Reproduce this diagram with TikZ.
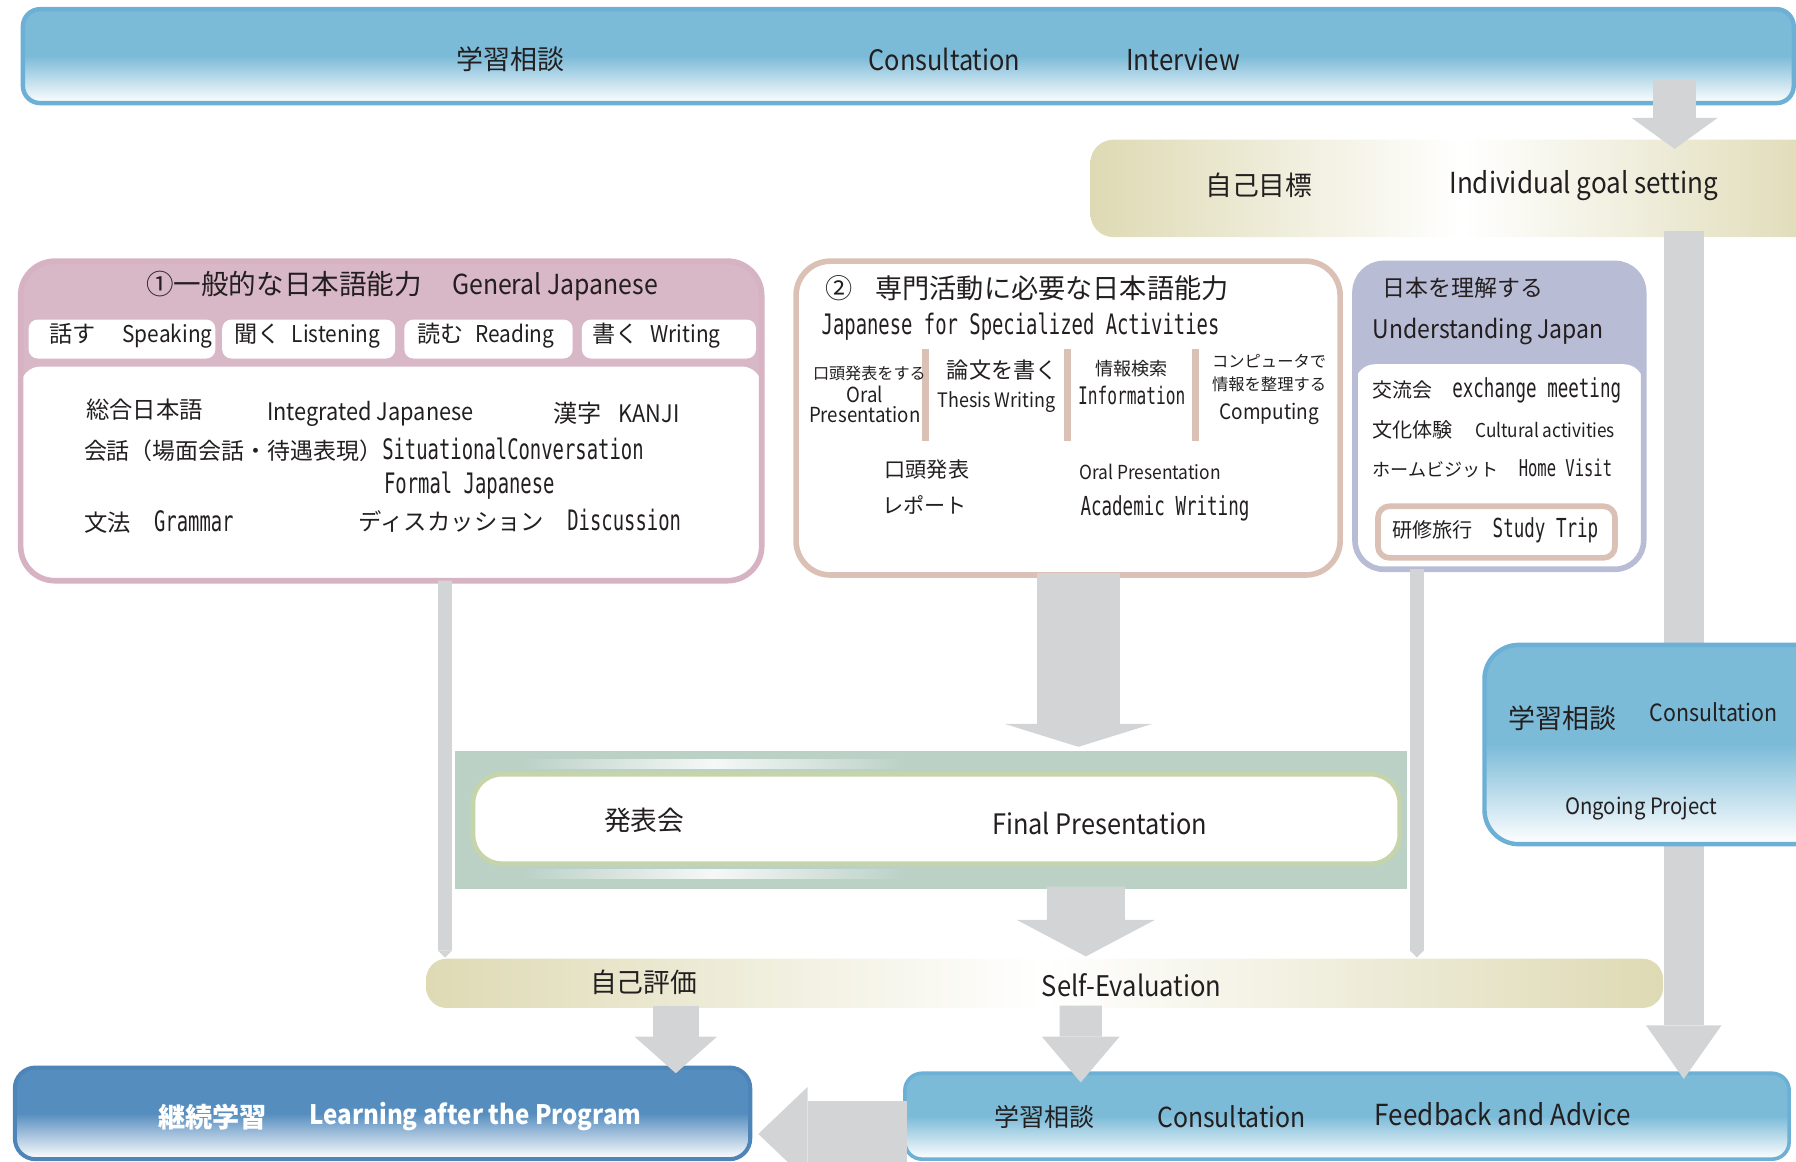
\documentclass[tikz,border=0pt]{standalone}
\usepackage{fontspec}
\setmainfont{Noto Sans CJK JP}
\newfontfamily\enfont{Noto Sans CJK JP}[FakeStretch=0.9]
\newfontfamily\monofont{DejaVu Sans Mono}[FakeStretch=0.67]
\usetikzlibrary{positioning, arrows.meta, fit, calc}
\definecolor{skyfill}{RGB}{124,187,216}
\definecolor{skyline}{RGB}{108,176,214}
\definecolor{khaki}{RGB}{222,218,180}
\definecolor{pinkhead}{RGB}{216,183,198}
\definecolor{pinkline}{RGB}{214,178,194}
\definecolor{roseline}{RGB}{219,192,181}
\definecolor{lavender}{RGB}{184,189,213}
\definecolor{arrowgray}{RGB}{211,212,214}
\definecolor{bandgreen}{RGB}{187,209,198}
\definecolor{finalline}{RGB}{198,212,170}
\definecolor{steelfill}{RGB}{86,141,191}
\definecolor{steelline}{RGB}{78,133,185}
\definecolor{inktext}{RGB}{35,31,32}
\newcommand{\fsz}[1]{\fontsize{#1}{#1}\selectfont}
\newcommand{\en}[1]{{\enfont #1}}
\newcommand{\mono}[2][14]{{\monofont\fsz{#1}#2}}
\tikzset{
  panel/.style={inner sep=0pt, outer sep=0pt},
  skybox/.style={panel, draw=skyline, line width=2.2pt,
    top color=skyfill, bottom color=white, middle color=skyfill},
  steelbox/.style={panel, draw=steelline, line width=2pt,
    top color=steelfill, bottom color=white, middle color=steelfill},
  khakibox/.style={panel, left color=khaki, right color=khaki, middle color=white},
  genbox/.style={panel, draw=pinkline, line width=2.8pt, fill=white, rounded corners=0.6cm,
    path picture={
      \fill[pinkhead, sharp corners] (path picture bounding box.north west)
        rectangle ([yshift=-2.4cm]path picture bounding box.north east);
      \fill[white, rounded corners=0.35cm] ([yshift=-1.84cm]path picture bounding box.north west)
        rectangle ([yshift=-1cm]path picture bounding box.south east);
    }},
  ujbox/.style={panel, draw=lavender, line width=2.8pt, fill=white, rounded corners=0.5cm,
    path picture={
      \fill[lavender, sharp corners] (path picture bounding box.north west)
        rectangle ([yshift=-2.2cm]path picture bounding box.north east);
      \fill[white, rounded corners=0.35cm] ([yshift=-1.76cm]path picture bounding box.north west)
        rectangle ([yshift=-1cm]path picture bounding box.south east);
    }},
  specbox/.style={panel, draw=roseline, line width=2.8pt, fill=white, rounded corners=0.6cm},
  tripbox/.style={panel, draw=roseline, line width=2.8pt, fill=white, rounded corners=0.2cm},
  tabbox/.style={panel, fill=white, rounded corners=0.16cm},
  bandbox/.style={panel, fill=bandgreen},
  finalbox/.style={panel, draw=finalline, line width=2.3pt, fill=white, rounded corners=0.5cm},
  txt/.style={inner sep=0pt, text=inktext, anchor=west},
  ctxt/.style={inner sep=0pt, text=inktext},
  sepline/.style={draw=roseline, line width=3.4pt},
  blockarrow/.style n args={3}{draw=arrowgray, line width=#1,
    -{Triangle[width=#2, length=#3, line width=0pt]}}
}

\begin{document}
\begin{tikzpicture}[x=0.02cm, y=-0.02cm]
  \useasboundingbox (0,0) rectangle (1568,1014);
  \clip (0,0) rectangle (1568,1014);

  % consultation and goal
  \node[skybox, rounded corners=0.3cm, fit={(20,8) (1566,90)}] (topbar) {};
  \node[txt, font=\fsz{13.4}] (topjp) at (398,52) {学習相談};
  \node[txt, font=\fsz{14}] (topcons) at (758,52) {\en{Consultation}};
  \node[txt, font=\fsz{14.3}] (topint) at (983,52) {\en{Interview}};

  \node[khakibox, rounded corners=0.4cm, fit={(952,122) (1600,207)}] (goal) {};
  \node[txt, font=\fsz{13.3}] (goaljp) at (1052,162) {自己目標};
  \node[txt, font=\fsz{14.4}] (goalen) at (1265,162) {\en{Individual goal setting}};

  \draw[blockarrow={21.6pt}{42.7pt}{15.4pt}] ($(topbar.south)+(669,-20)$) -- ($(goal.north)+(186,8)$);

  % (1) general japanese
  \node[genbox, fit={(18,228) (665,507)}] (gen) {};
  \node[ctxt, font=\fsz{13.7}] (gentitle) at (351,250) {①一般的な日本語能力\hspace{1.1em}\en{General Japanese}};
  \node[tabbox, fit={(25,279) (188,313)}] (tab1) {};
  \node[tabbox, fit={(194,279) (345,313)}] (tab2) {};
  \node[tabbox, fit={(353,279) (500,313)}] (tab3) {};
  \node[tabbox, fit={(508,279) (660,313)}] (tab4) {};
  \node[txt, font=\fsz{11.5}] (tab1t) at (43,293) {話す\hspace{1.15em}\en{Speaking}};
  \node[txt, font=\fsz{11.5}] (tab2t) at (204,293) {聞く\hspace{0.5em}\en{Listening}};
  \node[txt, font=\fsz{11.5}] (tab3t) at (364,293) {読む\hspace{0.5em}\en{Reading}};
  \node[txt, font=\fsz{11.5}] (tab4t) at (517,293) {書く\hspace{0.5em}\en{Writing}};
  \node[txt, font=\fsz{11.6}] (intjp) at (75,358) {総合日本語};
  \node[txt, font=\fsz{12}] (inten) at (233,361) {\en{Integrated Japanese}};
  \node[txt, font=\fsz{12}] (kanji) at (483,361) {漢字\hspace{0.7em}\en{KANJI}};
  \node[txt, font=\fsz{11.4}] (conv) at (73,393) {会話（場面会話・待遇表現）\mono{SituationalConversation}};
  \node[txt] (formal) at (335,424) {\mono{Formal Japanese}};
  \node[txt, font=\fsz{11.6}] (gram) at (73,456) {文法　\mono{Grammar}};
  \node[txt, font=\fsz{11.6}] (disc) at (313,455) {ディスカッション　\mono{Discussion}};

  % (2) specialized activities
  \node[specbox, fit={(695,228) (1170,502)}] (spec) {};
  \node[txt, font=\fsz{13.5}] (spectitle) at (720,252) {②\hspace{0.85em}専門活動に必要な日本語能力};
  \node[txt] (specen) at (717,285) {\mono{Japanese for Specialized Activities}};
  \draw[sepline] (808,305) -- (808,385);
  \draw[sepline] (932,305) -- (932,385);
  \draw[sepline] (1044,305) -- (1044,385);
  \node[ctxt, font=\fsz{8}] (c1jp) at (759,326) {口頭発表をする};
  \node[ctxt, font=\fsz{10.3}, align=center] (c1en) at (755,353) {\en{Oral}\\\en{Presentation}};
  \node[ctxt, font=\fsz{11}] (c2jp) at (875,323) {論文を書く};
  \node[ctxt, font=\fsz{9.9}] (c2en) at (870,351) {\en{Thesis Writing}};
  \node[ctxt, font=\fsz{9}] (c3jp) at (988,322) {情報検索};
  \node[ctxt] (c3en) at (988,345) {\mono[12]{Information}};
  \node[ctxt, font=\fontsize{8.1}{11.4}\selectfont, align=center] (c4jp) at (1108,326) {コンピュータで\\情報を整理する};
  \node[ctxt, font=\fsz{10.5}] (c4en) at (1108,361) {\en{Computing}};
  \node[txt, font=\fsz{10.5}] (oraljp) at (772,410) {口頭発表};
  \node[txt, font=\fsz{9.6}] (oralen) at (942,412) {\en{Oral Presentation}};
  \node[txt, font=\fsz{10.5}] (repjp) at (770,441) {レポート};
  \node[txt] (repen) at (943,444) {\mono[13]{Academic Writing}};

  % understanding japan
  \node[ujbox, fit={(1183,230) (1435,497)}] (uj) {};
  \node[txt, font=\fsz{11.4}] (ujjp) at (1207,251) {日本を理解する};
  \node[txt, font=\fsz{12.7}] (ujen) at (1198,289) {\en{Understanding Japan}};
  \node[txt, font=\fsz{9.9}] (exch) at (1198,341) {交流会　\mono[13]{exchange meeting}};
  \node[txt, font=\fsz{10}] (cult) at (1198,375) {文化体験\hspace{1.1em}{\fsz{9.5}\en{Cultural activities}}};
  \node[txt, font=\fsz{9}] (home) at (1198,409) {ホームビジット\hspace{1.1em}\mono[11.5]{Home Visit}};
  \node[tripbox, fit={(1203,442) (1410,487)}] (trip) {};
  \node[txt, font=\fsz{10}] (tripjp) at (1215,463) {研修旅行\hspace{1em}\mono[13]{Study Trip}};

  % bottom boxes
  \node[steelbox, rounded corners=0.36cm, fit={(13,932) (655,1012)}] (learn) {};
  \node[txt, font=\bfseries\fsz{13.5}, text=white] (learnjp) at (138,975) {継続学習};
  \node[txt, font=\bfseries\fsz{13.3}, text=white] (learnen) at (270,975) {\en{Learning after the Program}};

  \node[skybox, line width=1.8pt, rounded corners=0.3cm, fit={(790,937) (1562,1012)}] (consb) {};
  \node[txt, font=\fsz{12.4}] (cbjp) at (868,975) {学習相談};
  \node[txt, font=\fsz{13.7}] (cbcons) at (1010,975) {\en{Consultation}};
  \node[txt, font=\fsz{14.4}] (cbfeed) at (1200,973) {\en{Feedback and Advice}};

  \draw[blockarrow={19.9pt}{37.6pt}{26.7pt}] ($(goal.south)+(194,-5)$) -- ($(consb.north)+(294,5)$);

  % ongoing project
  \node[skybox, rounded corners=0.6cm, fit={(1296,563) (1600,737)}] (ongo) {};
  \node[txt, font=\fsz{13.4}] (ongojp) at (1317,627) {学習相談};
  \node[txt, font=\fsz{11.8}] (ongocons) at (1440,622) {\en{Consultation}};
  \node[ctxt, font=\fsz{11.2}] (ongoen) at (1433,706) {\en{Ongoing Project}};

  % self evaluation
  \node[khakibox, rounded corners=0.36cm, fit={(372,837) (1452,880)}] (selfev) {};
  \node[ctxt, font=\fsz{13.3}] (selfjp) at (562,858) {自己評価};
  \node[ctxt, font=\fsz{14.1}] (selfen) at (988,860) {\en{Self-Evaluation}};

  \draw[blockarrow={6.8pt}{6.8pt}{3.4pt}] ($(gen.south)+(47,0)$) -- ($(selfev.north)+(-523.5,-1)$);
  \draw[blockarrow={6.8pt}{6.8pt}{3.4pt}] ($(uj.south)+(-72,0)$) -- ($(selfev.north)+(325,-1)$);

  % final presentation
  \node[bandbox, fit={(397,656) (1228,776)}] (band) {};
  \shade[left color=bandgreen, right color=bandgreen, middle color=white!85!bandgreen] (455,663) rectangle (790,671);
  \shade[left color=bandgreen, right color=bandgreen, middle color=white!85!bandgreen] (455,759) rectangle (790,767);
  \node[finalbox, fit={(413,676) (1222,754)}] (final) {};
  \node[txt, font=\fsz{13.3}] (finjp) at (527,716) {発表会};
  \node[ctxt, font=\fsz{14}] (finen) at (960,719) {\en{Final Presentation}};

  \draw[blockarrow={41.5pt}{73.4pt}{11.4pt}] ($(spec.south)+(9,-2)$) -- ($(band.north)+(129,-4)$);
  \draw[blockarrow={38.7pt}{68.8pt}{18.2pt}] ($(band.south)+(135.5,-2)$) -- ($(selfev.north)+(36,-2)$);

  \draw[blockarrow={22.8pt}{41pt}{18.2pt}] ($(selfev.south)+(-322,-2)$) -- ($(learn.north)+(256,5)$);
  \draw[blockarrow={21pt}{38.7pt}{22.8pt}] ($(selfev.south)+(31.5,-2)$) -- ($(consb.north)+(-232.5,8)$);
  \draw[blockarrow={33pt}{46.7pt}{24.5pt}] ($(consb.west)+(2,15.5)$) -- ($(learn.east)+(7,18)$);
\end{tikzpicture}
\end{document}
